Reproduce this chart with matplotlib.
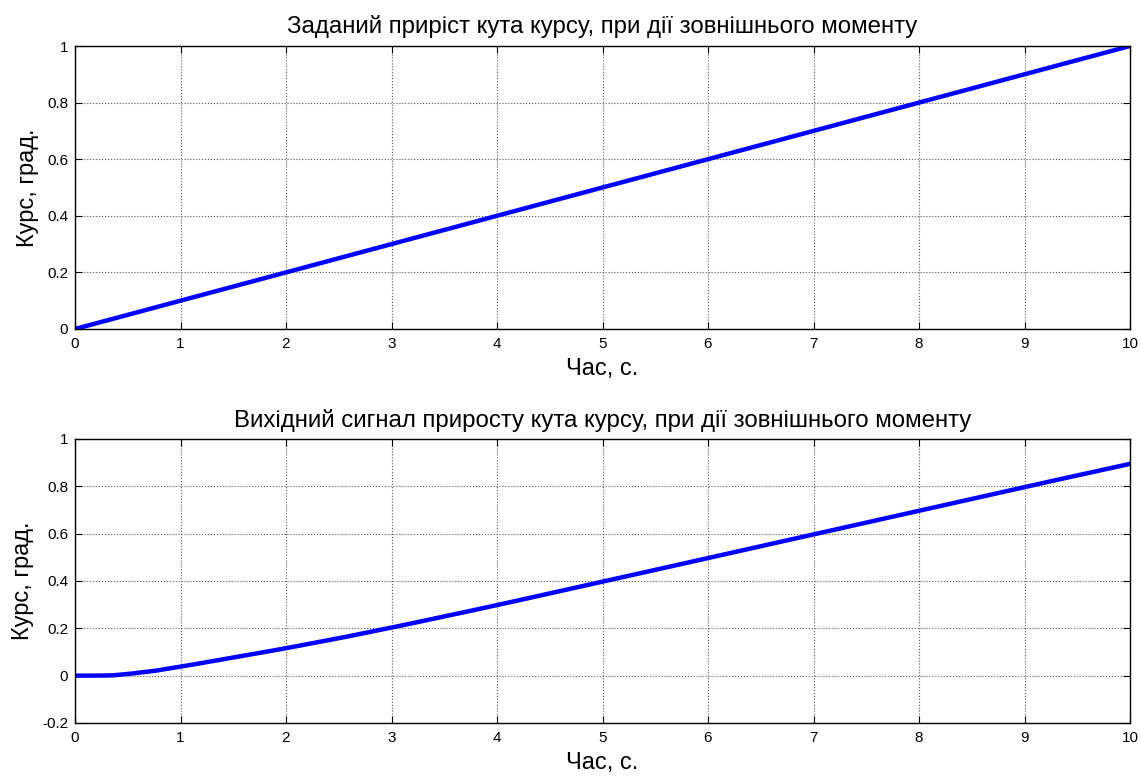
import matplotlib
matplotlib.use("Agg")
import matplotlib.pyplot as plt
import numpy as np

plt.rcParams["font.family"] = ["Liberation Sans", "DejaVu Sans"]

# Заданий приріст кута курсу (лінійний)
t_set = [0, 10]
course_set = [0.0, 1.0]

# Вихідний сигнал (значення)
t_out = [0, 0.2, 0.35, 0.5, 0.75, 1, 1.25, 1.5, 1.75, 2, 2.5, 3, 3.5, 4, 5, 6, 7, 8, 9, 10]
course_out = [0, 0.0, 0.001, 0.007, 0.02, 0.038, 0.057, 0.077, 0.096, 0.116, 0.158, 0.203,
              0.25, 0.298, 0.397, 0.497, 0.597, 0.697, 0.797, 0.895]

titles = ["Заданий приріст кута курсу, при дії зовнішнього моменту",
          "Вихідний сигнал приросту кута курсу, при дії зовнішнього моменту"]

fig = plt.figure(figsize=(11.41, 7.78), dpi=100)
ax1 = fig.add_axes([75 / 1141, 1 - 329 / 778, 1055 / 1141, 283 / 778])
ax2 = fig.add_axes([75 / 1141, 1 - 723 / 778, 1055 / 1141, 284 / 778])

tt = np.linspace(0, 10, 500)
yy = np.interp(tt, t_out, course_out)

ax1.plot(t_set, course_set, color="#0000FF", linewidth=3.2)
ax2.plot(tt, yy, color="#0000FF", linewidth=3.2)

for ax, title, ylim, yt in [(ax1, titles[0], (0, 1), np.arange(0, 1.01, 0.2)),
                            (ax2, titles[1], (-0.2, 1), np.arange(-0.2, 1.01, 0.2))]:
    ax.set_xlim(0, 10)
    ax.set_ylim(*ylim)
    ax.set_xticks(range(0, 11))
    ax.set_yticks(yt)
    ax.set_yticklabels([f"{v:g}" if abs(v) > 1e-9 else "0" for v in yt])
    ax.grid(True, linestyle=":", color="#555555", linewidth=0.8)
    ax.tick_params(direction="in", length=5, top=True, right=True, labelsize=11,
                   width=0.8)
    ax.tick_params(axis="x", pad=6)
    ax.tick_params(axis="y", pad=5)
    for s in ax.spines.values():
        s.set_linewidth(1.0)
    ax.set_title(title, fontsize=17.3, pad=9)
    ax.set_xlabel("Час, с.", fontsize=17, labelpad=5)
    ax.set_ylabel("Курс, град.", fontsize=17, labelpad=6)

fig.savefig("out.png", dpi=100, facecolor="white")
